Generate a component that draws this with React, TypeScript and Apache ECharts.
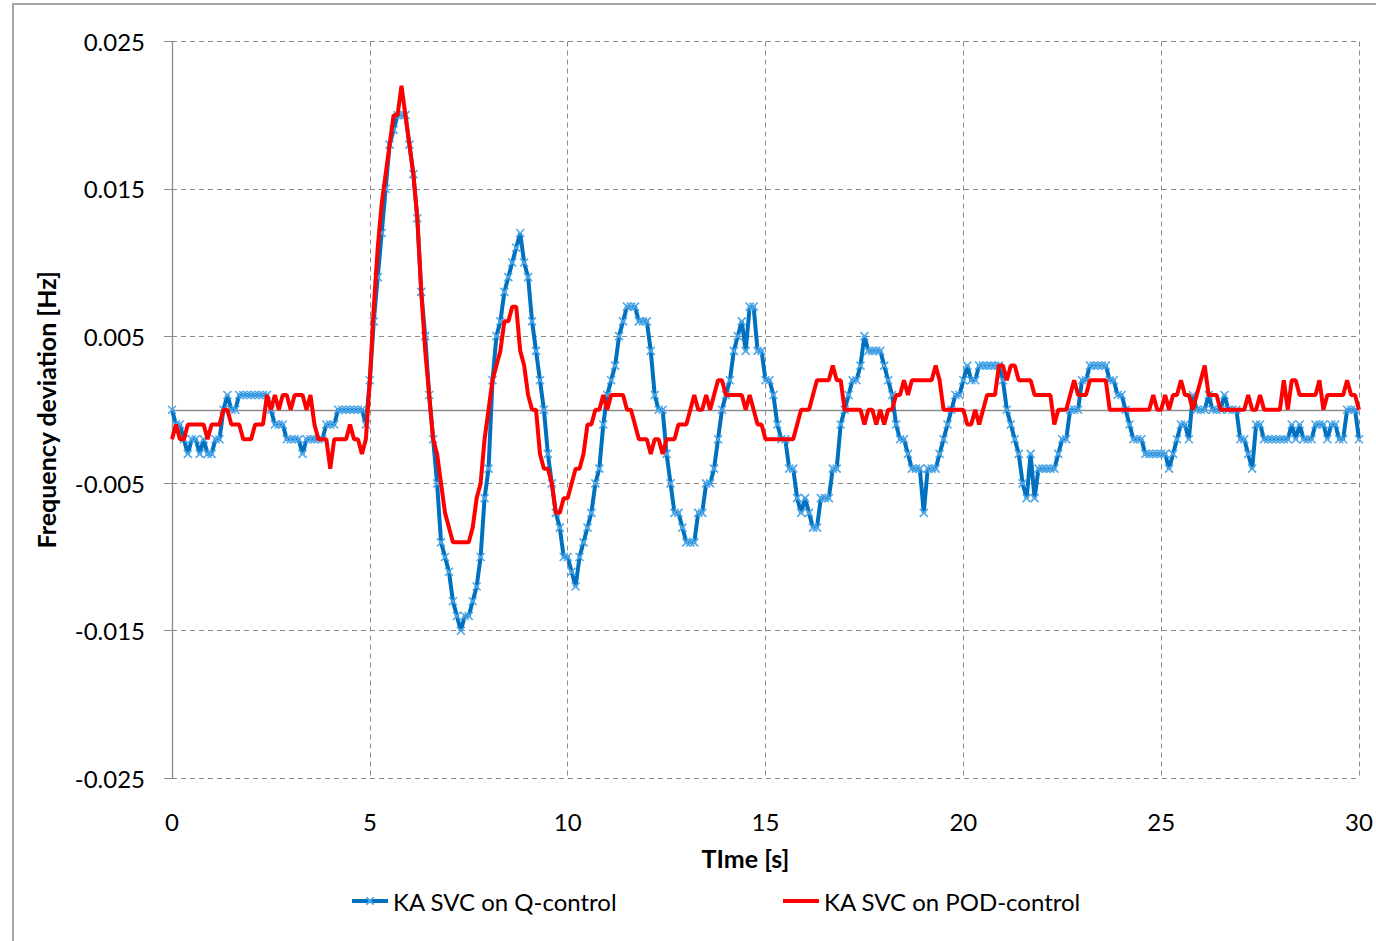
import React, { useEffect, useRef } from "react";
import * as echarts from "echarts";

// Sample step of the recording (s)
const TIME_STEP = 0.1;

// Frequency deviation [Hz], KA SVC on Q-control (sampled every 0.1 s from 0 to 30 s)
const qControl: number[] = [
  0, -0.001, -0.001, -0.002, -0.003, -0.002, -0.002, -0.003, -0.002, -0.003,
  -0.003, -0.002, -0.002, 0, 0.001, 0, 0, 0.001, 0.001, 0.001,
  0.001, 0.001, 0.001, 0.001, 0.001, 0, -0.001, -0.001, -0.001, -0.002,
  -0.002, -0.002, -0.002, -0.003, -0.002, -0.002, -0.002, -0.002, -0.002, -0.001,
  -0.001, -0.001, 0, 0, 0, 0, 0, 0, 0, -0.001,
  0.002, 0.006, 0.009, 0.012, 0.015, 0.018, 0.019, 0.020, 0.020, 0.020,
  0.018, 0.016, 0.013, 0.008, 0.005, 0.001, -0.002, -0.005, -0.009, -0.010,
  -0.011, -0.013, -0.014, -0.015, -0.014, -0.014, -0.013, -0.012, -0.010, -0.006,
  -0.004, 0.002, 0.005, 0.006, 0.008, 0.009, 0.010, 0.011, 0.012, 0.010,
  0.009, 0.006, 0.004, 0.002, 0, -0.003, -0.005, -0.007, -0.008, -0.010,
  -0.010, -0.011, -0.012, -0.010, -0.009, -0.008, -0.007, -0.005, -0.004, -0.001,
  0.001, 0.002, 0.003, 0.005, 0.006, 0.007, 0.007, 0.007, 0.006, 0.006,
  0.006, 0.004, 0.001, 0, 0, -0.003, -0.005, -0.007, -0.007, -0.008,
  -0.009, -0.009, -0.009, -0.007, -0.007, -0.005, -0.005, -0.004, -0.002, 0,
  0.001, 0.002, 0.004, 0.005, 0.006, 0.004, 0.007, 0.007, 0.004, 0.004,
  0.002, 0.002, 0.001, -0.001, -0.002, -0.002, -0.004, -0.004, -0.006, -0.007,
  -0.006, -0.007, -0.008, -0.008, -0.006, -0.006, -0.006, -0.004, -0.004, -0.001,
  0, 0.001, 0.002, 0.002, 0.003, 0.005, 0.004, 0.004, 0.004, 0.004,
  0.003, 0.002, 0.001, -0.001, -0.002, -0.002, -0.003, -0.004, -0.004, -0.004,
  -0.007, -0.004, -0.004, -0.004, -0.003, -0.002, -0.001, 0, 0.001, 0.001,
  0.002, 0.003, 0.002, 0.002, 0.003, 0.003, 0.003, 0.003, 0.003, 0.003,
  0.002, 0, -0.001, -0.002, -0.003, -0.005, -0.006, -0.003, -0.006, -0.004,
  -0.004, -0.004, -0.004, -0.004, -0.003, -0.002, -0.002, 0, 0, 0,
  0.002, 0.002, 0.003, 0.003, 0.003, 0.003, 0.003, 0.002, 0.002, 0.001,
  0.001, 0, -0.001, -0.002, -0.002, -0.002, -0.003, -0.003, -0.003, -0.003,
  -0.003, -0.003, -0.004, -0.003, -0.002, -0.001, -0.001, -0.002, 0.001, 0,
  0, 0, 0.001, 0, 0, 0, 0.001, 0, 0, 0,
  -0.002, -0.002, -0.003, -0.004, -0.001, -0.001, -0.002, -0.002, -0.002, -0.002,
  -0.002, -0.002, -0.002, -0.001, -0.002, -0.001, -0.002, -0.002, -0.002, -0.001,
  -0.001, -0.001, -0.002, -0.001, -0.001, -0.002, -0.002, 0, 0, 0,
  -0.002,
];

// Frequency deviation [Hz], KA SVC on POD-control (sampled every 0.1 s from 0 to 30 s)
const podControl: number[] = [
  -0.002, -0.001, -0.002, -0.002, -0.001, -0.001, -0.001, -0.001, -0.001, -0.002,
  -0.001, -0.001, -0.001, 0, 0, -0.001, -0.001, -0.001, -0.002, -0.002,
  -0.002, -0.001, -0.001, -0.001, 0.001, 0, 0.001, 0, 0.001, 0.001,
  0, 0.001, 0.001, 0.001, 0, 0.001, -0.001, -0.002, -0.002, -0.002,
  -0.004, -0.002, -0.002, -0.002, -0.002, -0.001, -0.002, -0.002, -0.003, -0.002,
  0.002, 0.007, 0.011, 0.014, 0.016, 0.018, 0.020, 0.020, 0.022, 0.020,
  0.018, 0.016, 0.013, 0.008, 0.004, 0.001, -0.002, -0.003, -0.005, -0.007,
  -0.008, -0.009, -0.009, -0.009, -0.009, -0.009, -0.008, -0.006, -0.005, -0.002,
  0, 0.002, 0.003, 0.004, 0.006, 0.006, 0.007, 0.007, 0.004, 0.003,
  0.001, 0, 0, -0.003, -0.004, -0.004, -0.005, -0.007, -0.007, -0.006,
  -0.006, -0.005, -0.004, -0.004, -0.003, -0.001, -0.001, 0, 0, 0.001,
  0, 0.001, 0.001, 0.001, 0.001, 0, 0, -0.001, -0.002, -0.002,
  -0.002, -0.003, -0.002, -0.002, -0.003, -0.002, -0.002, -0.002, -0.001, -0.001,
  -0.001, 0, 0.001, 0, 0, 0.001, 0, 0.001, 0.002, 0.002,
  0.001, 0.001, 0.001, 0.001, 0.001, 0, 0.001, 0, -0.001, -0.001,
  -0.002, -0.002, -0.002, -0.002, -0.002, -0.002, -0.002, -0.002, -0.001, 0,
  0, 0, 0.001, 0.002, 0.002, 0.002, 0.002, 0.003, 0.002, 0.002,
  0, 0, 0, 0, 0, -0.001, 0, 0, -0.001, 0,
  -0.001, 0, 0, 0.001, 0.001, 0.002, 0.001, 0.002, 0.002, 0.002,
  0.002, 0.002, 0.002, 0.003, 0.002, 0, 0, 0, 0, 0,
  0, -0.001, -0.001, 0, -0.001, 0, 0.001, 0.001, 0.001, 0.003,
  0.003, 0.002, 0.003, 0.003, 0.002, 0.002, 0.002, 0.002, 0.001, 0.001,
  0.001, 0.001, 0.001, -0.001, 0, 0, 0, 0.001, 0.002, 0.001,
  0.001, 0.001, 0.002, 0.002, 0.002, 0.002, 0.002, 0, 0, 0,
  0, 0, 0, 0, 0, 0, 0, 0, 0.001, 0,
  0, 0.001, 0, 0.001, 0.001, 0.002, 0.001, 0.001, 0, 0.001,
  0.002, 0.003, 0.001, 0.001, 0.001, 0, 0, 0, 0, 0,
  0, 0, 0.001, 0, 0, 0.001, 0, 0, 0, 0,
  0, 0.002, 0, 0.002, 0.002, 0.001, 0.001, 0.001, 0.001, 0.001,
  0.002, 0, 0.001, 0.001, 0.001, 0.001, 0.001, 0.002, 0.001, 0.001,
  0,
];

const seriesNames = ["KA SVC on Q-control", "KA SVC on POD-control"];
const xTitle = "TIme [s]";
const yTitle = "Frequency deviation [Hz]";

const FONT = "Lato, 'Open Sans', sans-serif";
const GRID_COLOR = "#8c8c8c";
const BLUE = "#0070C0";
const RED = "#FF0000";
const X_MARK = "path://M0,0L10,10M10,0L0,10";

function pairs(values: number[]): [number, number][] {
  return values.map((v, i) => [Number((i * TIME_STEP).toFixed(1)), v]);
}

export default function App() {
  const ref = useRef<HTMLDivElement>(null);

  useEffect(() => {
    if (!ref.current) return;
    const chart = echarts.init(ref.current, undefined, { renderer: "svg" });
    chart.setOption({
      animation: false,
      backgroundColor: "#ffffff",
      textStyle: { fontFamily: FONT },
      graphic: [
        {
          type: "rect",
          silent: true,
          shape: { x: 13, y: 4, width: 1400, height: 980 },
          style: { fill: "none", stroke: "#a6a6a6", lineWidth: 2 },
          z: -10,
        },
      ],
      grid: { left: 172, right: 17, top: 41.5, bottom: 163 },
      legend: [
        {
          data: [seriesNames[0]],
          left: 350,
          top: 889,
          padding: 0,
          itemWidth: 36,
          itemHeight: 9,
          lineStyle: { width: 4 },
          textStyle: { fontSize: 24, color: "#000", fontFamily: FONT },
        },
        {
          data: [{ name: seriesNames[1], icon: "rect" }],
          left: 783,
          top: 889,
          padding: 0,
          itemWidth: 36,
          itemHeight: 4,
          textStyle: { fontSize: 24, color: "#000", fontFamily: FONT },
        },
      ],
      xAxis: [
        {
          type: "value",
          min: 0,
          max: 30,
          interval: 5,
          name: xTitle,
          nameLocation: "middle",
          nameGap: 67,
          nameTextStyle: {
            fontSize: 25,
            fontWeight: "bold",
            color: "#000",
            fontFamily: FONT,
            padding: [0, 40, 0, 0],
          },
          axisLine: { show: false, onZero: false },
          axisTick: { show: false },
          axisLabel: { fontSize: 24, color: "#000", margin: 31, fontFamily: FONT },
          splitLine: { show: true, lineStyle: { color: GRID_COLOR, type: [5, 4], width: 1 } },
        },
        {
          type: "value",
          min: 0,
          max: 30,
          position: "bottom",
          axisLine: { show: true, onZero: true, lineStyle: { color: GRID_COLOR, width: 1.3 } },
          axisTick: { show: false },
          axisLabel: { show: false },
          splitLine: { show: false },
        },
      ],
      yAxis: {
        type: "value",
        min: -0.025,
        max: 0.025,
        interval: 0.01,
        name: yTitle,
        nameLocation: "middle",
        nameGap: 114,
        nameTextStyle: { fontSize: 25, fontWeight: "bold", color: "#000", fontFamily: FONT },
        axisLine: { show: true, lineStyle: { color: GRID_COLOR, width: 1.3 } },
        axisTick: { show: true, length: 8, lineStyle: { color: GRID_COLOR } },
        axisLabel: {
          fontSize: 24,
          color: "#000",
          margin: 27,
          fontFamily: FONT,
          formatter: (v: number) => v.toFixed(3),
        },
        splitLine: { show: true, lineStyle: { color: GRID_COLOR, type: [5, 4], width: 1 } },
      },
      series: [
        {
          name: seriesNames[0],
          type: "line",
          data: pairs(qControl),
          symbol: X_MARK,
          symbolSize: 8,
          showSymbol: true,
          showAllSymbol: true,
          lineStyle: { color: BLUE, width: 4 },
          itemStyle: { color: BLUE, borderColor: "#4fa8e8", borderWidth: 1.6 },
          z: 3,
        },
        {
          name: seriesNames[1],
          type: "line",
          data: pairs(podControl),
          symbol: "none",
          lineStyle: { color: RED, width: 4 },
          itemStyle: { color: RED },
          z: 4,
        },
      ],
    });
    return () => chart.dispose();
  }, []);

  return (
    <div
      ref={ref}
      style={{ position: "absolute", left: 0, top: 0, width: 1376, height: 941, background: "#fff" }}
    />
  );
}
